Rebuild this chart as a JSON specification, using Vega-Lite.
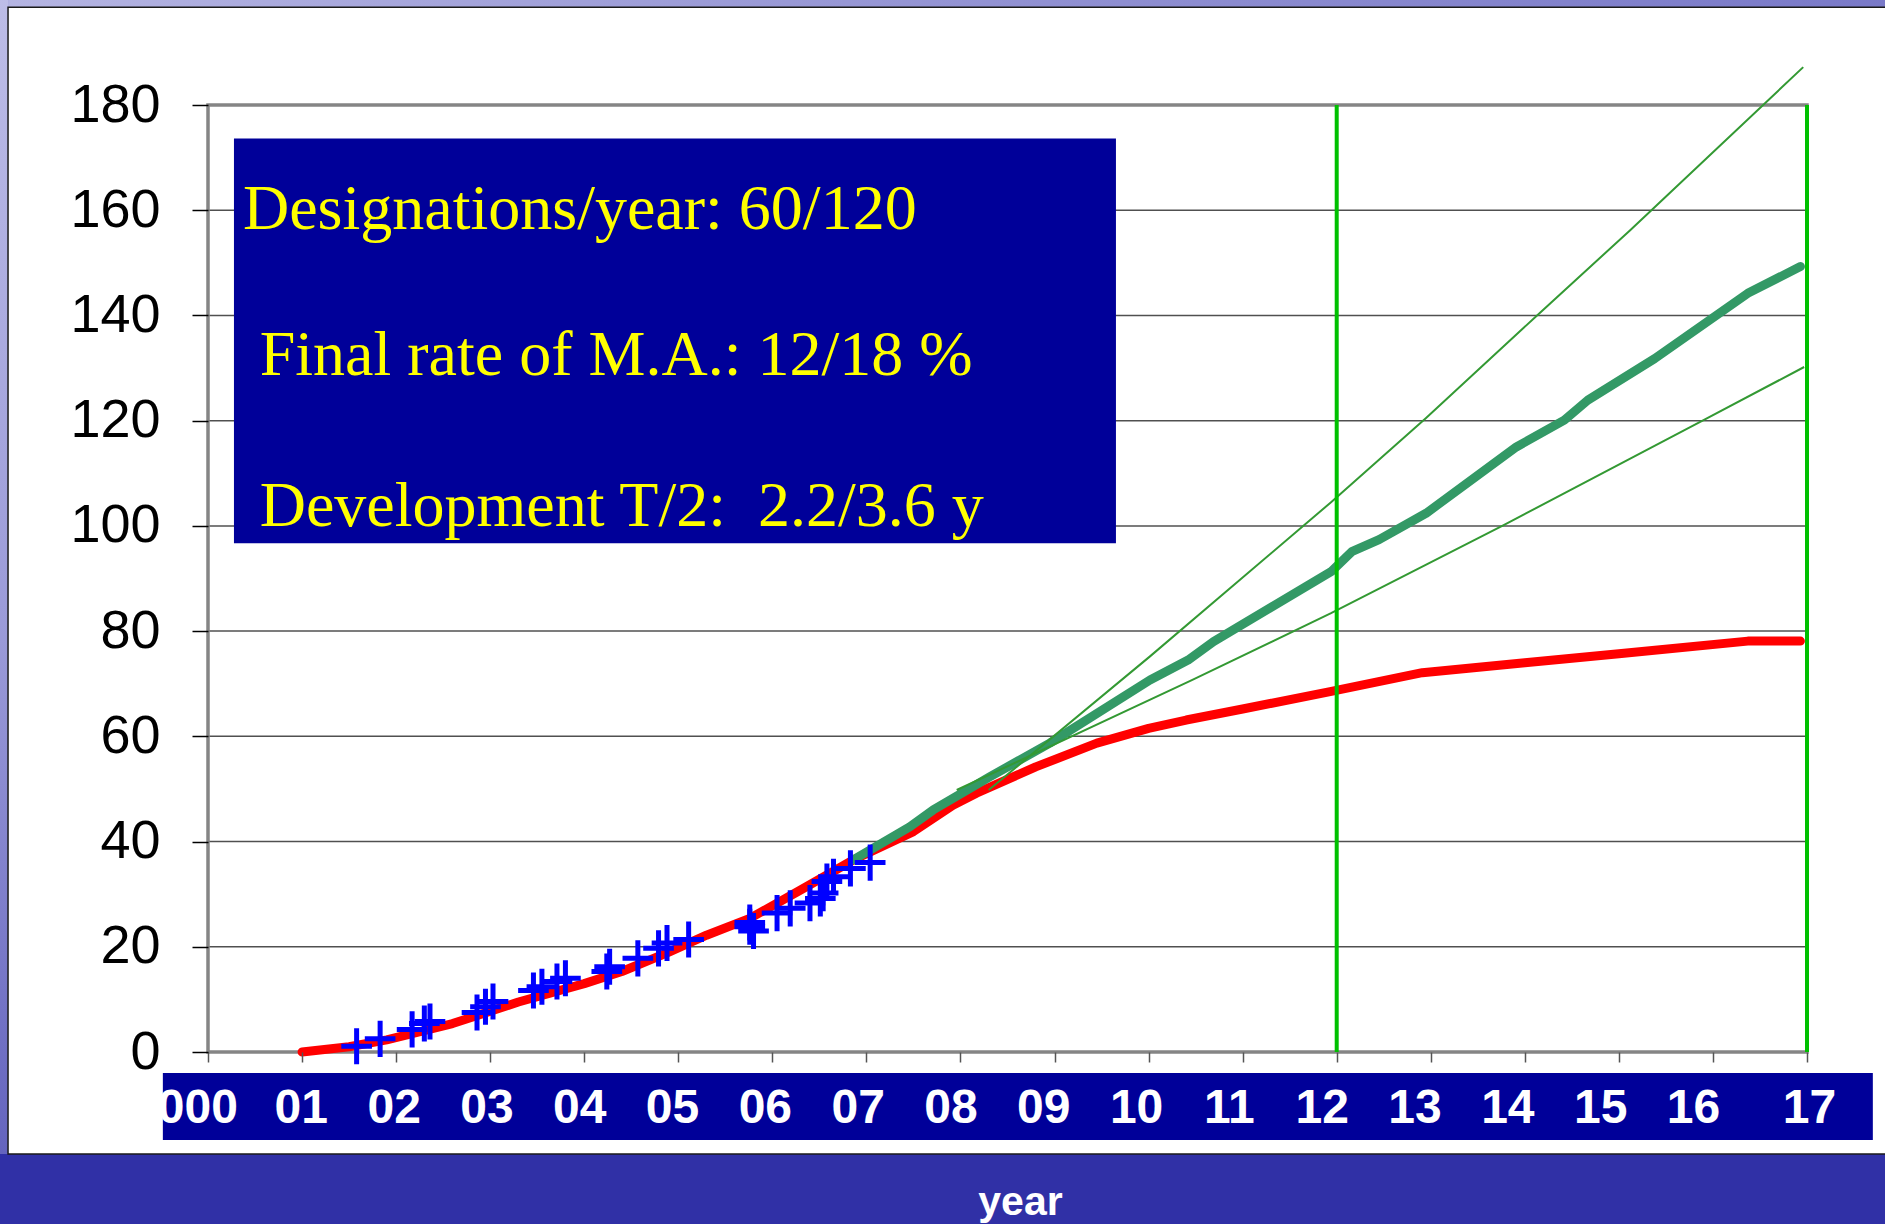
{
  "$schema": "https://vega.github.io/schema/vega-lite/v6.json",
  "width": 1599,
  "height": 947,
  "autosize": {"type": "none"},
  "padding": {"left": 208, "top": 105, "right": 78, "bottom": 172},
  "background": "#3030a6",
  "config": {"view": {"stroke": null}},
  "resolve": {"axis": {"x": "independent", "y": "independent"}},
  "datasets": {
    "red": [
      {"x": 2001.0, "y": 0}, {"x": 2001.5, "y": 1.0}, {"x": 2001.9, "y": 2.3}, {"x": 2002.6, "y": 5.4},
      {"x": 2003.3, "y": 9.5}, {"x": 2004.0, "y": 13.0}, {"x": 2004.4, "y": 15.3}, {"x": 2004.9, "y": 19.0},
      {"x": 2005.3, "y": 22.2}, {"x": 2005.76, "y": 25.4}, {"x": 2006.3, "y": 30.8}, {"x": 2006.86, "y": 36.5},
      {"x": 2007.5, "y": 41.9}, {"x": 2007.92, "y": 46.9}, {"x": 2008.17, "y": 49.2}, {"x": 2008.8, "y": 54.2},
      {"x": 2009.45, "y": 58.7}, {"x": 2010.0, "y": 61.5}, {"x": 2010.4, "y": 63.1}, {"x": 2011.0, "y": 65.2},
      {"x": 2011.93, "y": 68.5}, {"x": 2012.91, "y": 72.1}, {"x": 2014.0, "y": 74.0}, {"x": 2015.0, "y": 75.7},
      {"x": 2016.37, "y": 78.1}, {"x": 2016.93, "y": 78.1}
    ],
    "green": [
      {"x": 2006.86, "y": 36.5}, {"x": 2007.46, "y": 42.8}, {"x": 2007.71, "y": 46.0}, {"x": 2008.31, "y": 52.3},
      {"x": 2008.95, "y": 58.7}, {"x": 2010.015, "y": 70.7}, {"x": 2010.42, "y": 74.5}, {"x": 2010.69, "y": 78.0},
      {"x": 2011.94, "y": 91.3}, {"x": 2012.16, "y": 95.1}, {"x": 2012.45, "y": 97.4}, {"x": 2012.95, "y": 102.4},
      {"x": 2013.91, "y": 115.0}, {"x": 2014.42, "y": 120.1}, {"x": 2014.67, "y": 123.9}, {"x": 2015.38, "y": 131.8},
      {"x": 2016.37, "y": 144.2}, {"x": 2016.93, "y": 149.3}
    ],
    "thin": [
      {"s": "upper", "x": 2008.3, "y": 49.8}, {"s": "upper", "x": 2010.015, "y": 75.2}, {"s": "upper", "x": 2011.94, "y": 104.5},
      {"s": "upper", "x": 2012.95, "y": 120.5}, {"s": "upper", "x": 2014.13, "y": 140.0}, {"s": "upper", "x": 2015.12, "y": 156.2},
      {"s": "upper", "x": 2016.96, "y": 187.2},
      {"s": "lower", "x": 2007.96, "y": 49.8}, {"s": "lower", "x": 2010.46, "y": 70.7}, {"s": "lower", "x": 2011.94, "y": 83.4},
      {"s": "lower", "x": 2013.77, "y": 100.1}, {"s": "lower", "x": 2015.92, "y": 120.3}, {"s": "lower", "x": 2016.97, "y": 130.2}
    ],
    "obs": [
      {"x": 2001.58, "y": 1.1}, {"x": 2001.83, "y": 2.5}, {"x": 2002.17, "y": 4.3}, {"x": 2002.3, "y": 5.4},
      {"x": 2002.36, "y": 5.8}, {"x": 2002.86, "y": 7.5}, {"x": 2002.95, "y": 8.6}, {"x": 2003.03, "y": 9.6},
      {"x": 2003.46, "y": 11.7}, {"x": 2003.55, "y": 12.4}, {"x": 2003.71, "y": 13.4}, {"x": 2003.8, "y": 14.0},
      {"x": 2004.24, "y": 15.3}, {"x": 2004.27, "y": 16.2}, {"x": 2004.57, "y": 17.8}, {"x": 2004.79, "y": 19.7},
      {"x": 2004.88, "y": 20.7}, {"x": 2005.11, "y": 21.4}, {"x": 2005.76, "y": 24.6}, {"x": 2005.76, "y": 23.8},
      {"x": 2005.8, "y": 23.0}, {"x": 2006.05, "y": 26.4}, {"x": 2006.19, "y": 27.3}, {"x": 2006.4, "y": 28.3},
      {"x": 2006.51, "y": 29.2}, {"x": 2006.54, "y": 30.2}, {"x": 2006.58, "y": 32.4}, {"x": 2006.65, "y": 33.3},
      {"x": 2006.83, "y": 34.9}, {"x": 2007.04, "y": 36.0}
    ],
    "grid": [{"y": 20}, {"y": 40}, {"y": 60}, {"y": 80}, {"y": 100}, {"y": 120}, {"y": 140}, {"y": 160}],
    "vlines": [{"x": 2012}, {"x": 2017}],
    "notes": [
      {"label": "Designations/year: 60/120", "x": 2000.372, "y": 156.36},
      {"label": "Final rate of M.A.: 12/18 %", "x": 2000.55, "y": 128.6},
      {"label": "Development T/2:\u00a0 2.2/3.6 y", "x": 2000.55, "y": 100.07}
    ]
  },
  "layer": [
    {
      "data": {"values": [{}]},
      "mark": {"type": "rect", "color": {"gradient": "linear", "x1": 0, "y1": 0, "x2": 0, "y2": 1, "stops": [{"offset": 0, "color": "#c4c4ea"}, {"offset": 0.6, "color": "#9a9ad8"}, {"offset": 1, "color": "#6464be"}]}},
      "encoding": {
        "x": {"datum": 1990, "type": "quantitative", "scale": {"domain": [2000, 2017], "nice": false, "zero": false}, "axis": null},
        "x2": {"datum": 1997.874},
        "y": {"datum": -19.38, "type": "quantitative", "scale": {"domain": [0, 180], "nice": false, "zero": false}, "axis": null},
        "y2": {"datum": 225}
      }
    },
    {
      "data": {"values": [{}]},
      "mark": {"type": "rect", "color": {"gradient": "linear", "x1": 0, "y1": 0, "x2": 1, "y2": 0, "stops": [{"offset": 0, "color": "#b4b4e2"}, {"offset": 0.5, "color": "#9090d2"}, {"offset": 1, "color": "#7474c6"}]}},
      "encoding": {
        "x": {"datum": 1997.874, "type": "quantitative", "scale": {"domain": [2000, 2017], "nice": false, "zero": false}, "axis": null},
        "x2": {"datum": 2020},
        "y": {"datum": 198.6, "type": "quantitative", "scale": {"domain": [0, 180], "nice": false, "zero": false}, "axis": null},
        "y2": {"datum": 225}
      }
    },
    {
      "data": {"values": [{}]},
      "mark": {"type": "rect", "fill": "#ffffff", "stroke": "#1a1a1a", "strokeWidth": 1.5},
      "encoding": {
        "x": {"datum": 1997.874, "type": "quantitative", "scale": {"domain": [2000, 2017], "nice": false, "zero": false}, "axis": null},
        "x2": {"datum": 2018.2},
        "y": {"datum": -19.38, "type": "quantitative", "scale": {"domain": [0, 180], "nice": false, "zero": false}, "axis": null},
        "y2": {"datum": 198.6}
      }
    },
    {
      "data": {"name": "grid"},
      "mark": {"type": "rule", "color": "#505050", "strokeWidth": 1.5},
      "encoding": {
        "y": {"field": "y", "type": "quantitative", "scale": {"domain": [0, 180], "nice": false, "zero": false}, "axis": null}
      }
    },
    {
      "data": {"values": [{}]},
      "mark": {"type": "rect", "fill": "#000099"},
      "encoding": {
        "x": {"datum": 2000.276, "type": "quantitative", "scale": {"domain": [2000, 2017], "nice": false, "zero": false}, "axis": null},
        "x2": {"datum": 2009.653},
        "y": {"datum": 96.7, "type": "quantitative", "scale": {"domain": [0, 180], "nice": false, "zero": false}, "axis": null},
        "y2": {"datum": 173.65}
      }
    },
    {
      "data": {"name": "notes"},
      "mark": {"type": "text", "align": "left", "baseline": "alphabetic", "font": "Liberation Serif", "fontSize": 64, "color": "#ffff00"},
      "encoding": {
        "x": {"field": "x", "type": "quantitative", "scale": {"domain": [2000, 2017], "nice": false, "zero": false}, "axis": null},
        "y": {"field": "y", "type": "quantitative", "scale": {"domain": [0, 180], "nice": false, "zero": false}, "axis": null},
        "text": {"field": "label", "type": "nominal"}
      }
    },
    {
      "data": {"values": [{}]},
      "mark": {"type": "rect", "fill": "#000099"},
      "encoding": {
        "x": {"datum": 1999.52, "type": "quantitative", "scale": {"domain": [2000, 2017], "nice": false, "zero": false}, "axis": null},
        "x2": {"datum": 2017.7},
        "y": {"datum": -3.99, "type": "quantitative", "scale": {"domain": [0, 180], "nice": false, "zero": false}, "axis": null},
        "y2": {"datum": -16.72}
      }
    },
    {
      "data": {"values": [{}]},
      "mark": {"type": "rect", "fillOpacity": 0, "stroke": "#858585", "strokeWidth": 3.5},
      "encoding": {
        "x": {"datum": 2000, "type": "quantitative", "scale": {"domain": [2000, 2017], "nice": false, "zero": false}, "axis": null},
        "x2": {"datum": 2017},
        "y": {"datum": 0, "type": "quantitative", "scale": {"domain": [0, 180], "nice": false, "zero": false}, "axis": null},
        "y2": {"datum": 180}
      }
    },
    {
      "data": {"name": "red"},
      "mark": {"type": "line", "color": "#ff0000", "strokeWidth": 9, "strokeCap": "round", "strokeJoin": "round"},
      "encoding": {
        "x": {"field": "x", "type": "quantitative", "scale": {"domain": [2000, 2017], "nice": false, "zero": false}, "axis": null},
        "y": {"field": "y", "type": "quantitative", "scale": {"domain": [0, 180], "nice": false, "zero": false}, "axis": null}
      }
    },
    {
      "data": {"name": "green"},
      "mark": {"type": "line", "color": "#339966", "strokeWidth": 9, "strokeCap": "round", "strokeJoin": "round"},
      "encoding": {
        "x": {"field": "x", "type": "quantitative", "scale": {"domain": [2000, 2017], "nice": false, "zero": false}, "axis": null},
        "y": {"field": "y", "type": "quantitative", "scale": {"domain": [0, 180], "nice": false, "zero": false}, "axis": null}
      }
    },
    {
      "data": {"name": "thin"},
      "mark": {"type": "line", "color": "#339933", "strokeWidth": 2},
      "encoding": {
        "x": {"field": "x", "type": "quantitative", "scale": {"domain": [2000, 2017], "nice": false, "zero": false}, "axis": null},
        "y": {"field": "y", "type": "quantitative", "scale": {"domain": [0, 180], "nice": false, "zero": false}, "axis": null},
        "detail": {"field": "s", "type": "nominal"}
      }
    },
    {
      "data": {"name": "vlines"},
      "mark": {"type": "rule", "color": "#00c000", "strokeWidth": 4},
      "encoding": {
        "x": {"field": "x", "type": "quantitative", "scale": {"domain": [2000, 2017], "nice": false, "zero": false}, "axis": null}
      }
    },
    {
      "data": {"name": "obs"},
      "mark": {"type": "point", "shape": "M-0.85,0H0.85M0,-1V1", "size": 1300, "filled": false, "stroke": "#0000ff", "strokeWidth": 5, "opacity": 1},
      "encoding": {
        "x": {
          "field": "x", "type": "quantitative",
          "scale": {"domain": [2000, 2017], "nice": false, "zero": false},
          "axis": {
            "values": [2000, 2001, 2002, 2003, 2004, 2005, 2006, 2007, 2008, 2009, 2010, 2011, 2012, 2013, 2014, 2015, 2016, 2017],
            "labelExpr": "datum.value == 2000 ? '2000' : (datum.value < 2010 ? '0' + (datum.value - 2000) : '' + (datum.value - 2000))",
            "labelFont": "Liberation Sans", "labelFontWeight": "bold", "labelFontSize": 48, "labelColor": "#ffffff",
            "labelOffset": {"expr": "datum.value == 2000 ? -24 : (datum.value == 2017 ? 2 : -1.25 * (datum.value - 2000))"},
            "labelPadding": 22, "labelFlush": false, "labelOverlap": false,
            "tickSize": 10, "tickColor": "#555555", "tickWidth": 1.5,
            "domain": false, "grid": false,
            "title": "year", "titleFont": "Liberation Sans", "titleFontWeight": "bold", "titleFontSize": 41,
            "titleColor": "#ffffff", "titlePadding": 50, "titleX": 812, "zindex": 1
          }
        },
        "y": {
          "field": "y", "type": "quantitative",
          "scale": {"domain": [0, 180], "nice": false, "zero": false},
          "axis": {
            "values": [0, 20, 40, 60, 80, 100, 120, 140, 160, 180],
            "labelFont": "Liberation Sans", "labelFontSize": 54, "labelColor": "#000000", "labelPadding": 32,
            "tickSize": 16, "tickColor": "#000000", "tickWidth": 1.5,
            "domain": false, "grid": false, "title": null, "zindex": 1
          }
        }
      }
    }
  ]
}
